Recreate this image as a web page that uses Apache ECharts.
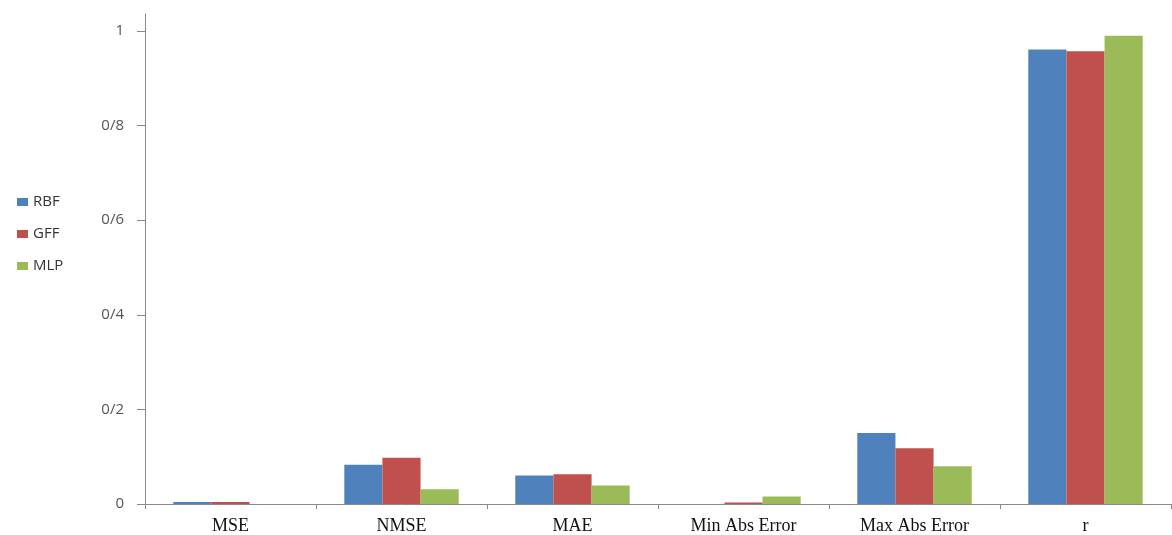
<!DOCTYPE html>
<html>
<head>
<meta charset="utf-8">
<script src="https://cdn.jsdelivr.net/npm/echarts@6/dist/echarts.min.js"></script>
<style>
  html, body { margin: 0; padding: 0; background: #fff; }
  #chart { width: 1172px; height: 535px; }
</style>
</head>
<body>
<div id="chart"></div>
<script>
const categories = ['MSE', 'NMSE', 'MAE', 'Min Abs Error', 'Max Abs Error', 'r'];
const rbf = [0.004, 0.083, 0.060, 0.000, 0.150, 0.961];
const gff = [0.004, 0.098, 0.063, 0.003, 0.118, 0.957];
const mlp = [0.000, 0.031, 0.039, 0.016, 0.080, 0.990];
const yTicks = [0, 0.2, 0.4, 0.6, 0.8, 1];

const chart = echarts.init(document.getElementById('chart'));

function bar(name, data, color) {
  return {
    name: name,
    type: 'bar',
    data: data,
    barWidth: '22.3%',
    barGap: '0%',
    itemStyle: { color: color }
  };
}

chart.setOption({
  animation: false,
  backgroundColor: '#ffffff',
  grid: { left: 145, right: 1, top: 14, bottom: 30, containLabel: false },
  legend: {
    orient: 'vertical',
    left: 12,
    top: 189,
    itemWidth: 11,
    itemHeight: 8,
    itemGap: 16,
    icon: 'rect',
    textStyle: { fontFamily: 'Open Sans', fontSize: 15, color: '#333', lineHeight: 16 },
    data: ['RBF', 'GFF', 'MLP']
  },
  xAxis: {
    type: 'category',
    data: categories,
    axisLine: { lineStyle: { color: '#8a8a8a', width: 1 } },
    axisTick: { show: true, length: 5, lineStyle: { color: '#8a8a8a' } },
    axisLabel: {
      margin: 13,
      fontFamily: 'Liberation Serif',
      fontSize: 18,
      color: '#111'
    }
  },
  yAxis: {
    type: 'value',
    min: 0,
    max: 1.036,
    splitLine: { show: false },
    axisLine: { show: true, lineStyle: { color: '#8a8a8a', width: 1 } },
    axisTick: { show: true, length: 8, customValues: yTicks, lineStyle: { color: '#8a8a8a' } },
    axisLabel: {
      customValues: yTicks,
      margin: 21,
      fontFamily: 'Open Sans',
      fontSize: 15,
      color: '#555',
      formatter: function (v) {
        if (v === 0) return '0';
        if (Math.abs(v - 1) < 1e-9) return '1';
        return '0/' + Math.round(v * 10);
      }
    }
  },
  series: [
    bar('RBF', rbf, '#4F81BD'),
    bar('GFF', gff, '#C0504D'),
    bar('MLP', mlp, '#9BBB59')
  ]
});
</script>
</body>
</html>
